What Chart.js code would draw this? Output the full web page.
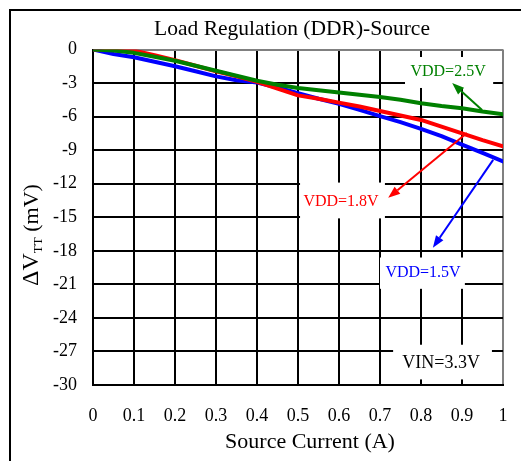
<!DOCTYPE html>
<html>
<head>
<meta charset="utf-8">
<script src="https://cdn.jsdelivr.net/npm/chart.js@4.4.1/dist/chart.umd.min.js"></script>
<style>
  html, body { margin: 0; padding: 0; background: #fff; }
  #wrap { position: relative; width: 521px; height: 461px; overflow: hidden; background: #fff; }
  #frame { position: absolute; left: 9px; top: 9px; width: 600px; height: 600px; border: 2px solid #000; }
  #c { position: absolute; left: 0; top: 0; }
</style>
</head>
<body>
<div id="wrap">
  <div id="frame"></div>
  <canvas id="c" width="521" height="461"></canvas>
</div>
<script>
// source current (A)
const current = [0, 0.05, 0.1, 0.15, 0.2, 0.25, 0.3, 0.35, 0.4, 0.45, 0.5, 0.55, 0.6, 0.65, 0.7, 0.75, 0.8, 0.85, 0.9, 0.95, 1];
// delta VTT (mV) per VDD
const vdd15 = [0, -0.4, -0.7, -1.1, -1.5, -1.95, -2.4, -2.75, -2.95, -3.4, -3.9, -4.4, -4.85, -5.4, -5.95, -6.5, -7.1, -7.75, -8.5, -9.25, -10.0];
const vdd18 = [0, -0.05, -0.1, -0.5, -0.95, -1.45, -1.95, -2.4, -2.9, -3.5, -4.1, -4.4, -4.75, -5.1, -5.5, -5.9, -6.3, -6.9, -7.5, -8.1, -8.65];
const vdd25 = [0, -0.1, -0.3, -0.65, -1.0, -1.45, -1.9, -2.35, -2.8, -3.15, -3.45, -3.65, -3.85, -4.05, -4.25, -4.5, -4.8, -5.05, -5.25, -5.55, -5.8];

const xTicks = [0, 0.1, 0.2, 0.3, 0.4, 0.5, 0.6, 0.7, 0.8, 0.9, 1];
const xTickLabels = ['0', '0.1', '0.2', '0.3', '0.4', '0.5', '0.6', '0.7', '0.8', '0.9', '1'];
const yTicks = [0, -3, -6, -9, -12, -15, -18, -21, -24, -27, -30];
const yTickLabels = ['0', '-3', '-6', '-9', '-12', '-15', '-18', '-21', '-24', '-27', '-30'];

const FONT = '"Liberation Serif", "Times New Roman", serif';

// callout labels, in data units: box [x0, x1, y0, y1], text centre, arrow [tail, head]
const notes = [
  { text: 'VDD=2.5V', color: '#008000', size: 16, box: [0.761, 0.976, -0.67, -3.44], at: [0.866, -2.0], arrow: [[0.949, -5.4], [0.876, -3.0]] },
  { text: 'VDD=1.8V', color: '#ff0000', size: 16, box: [0.505, 0.712, -11.9, -15.1], at: [0.605, -13.6], arrow: [[0.912, -7.46], [0.72, -13.26]] },
  { text: 'VDD=1.5V', color: '#0000ff', size: 16, box: [0.700, 0.907, -18.6, -21.4], at: [0.805, -19.95], arrow: [[0.976, -9.87], [0.829, -17.72]] },
  { text: 'VIN=3.3V', color: '#000000', size: 18, box: [0.732, 0.973, -26.4, -29.5], at: [0.849, -28.1], arrow: null }
];

function pts(ys) {
  return current.map((x, i) => ({ x: x, y: ys[i] }));
}

const calloutPlugin = {
  id: 'callouts',
  beforeDatasetsDraw(chart) {
    const ctx = chart.ctx, xs = chart.scales.x, ys = chart.scales.y;
    ctx.save();
    ctx.fillStyle = '#fff';
    notes.forEach(n => {
      const x0 = xs.getPixelForValue(n.box[0]), x1 = xs.getPixelForValue(n.box[1]);
      const y0 = ys.getPixelForValue(n.box[2]), y1 = ys.getPixelForValue(n.box[3]);
      ctx.fillRect(x0, y0, x1 - x0, y1 - y0);
    });
    ctx.restore();
  },
  afterDatasetsDraw(chart) {
    const ctx = chart.ctx, xs = chart.scales.x, ys = chart.scales.y;
    ctx.save();
    notes.forEach(n => {
      if (n.arrow) {
        const tx = xs.getPixelForValue(n.arrow[0][0]), ty = ys.getPixelForValue(n.arrow[0][1]);
        const hx = xs.getPixelForValue(n.arrow[1][0]), hy = ys.getPixelForValue(n.arrow[1][1]);
        const ang = Math.atan2(hy - ty, hx - tx);
        const len = 12, half = 4.5;
        const bx = hx - len * Math.cos(ang), by = hy - len * Math.sin(ang);
        ctx.strokeStyle = n.color;
        ctx.fillStyle = n.color;
        ctx.lineWidth = 2;
        ctx.beginPath();
        ctx.moveTo(tx, ty);
        ctx.lineTo(bx, by);
        ctx.stroke();
        ctx.beginPath();
        ctx.moveTo(hx, hy);
        ctx.lineTo(bx + half * Math.sin(ang), by - half * Math.cos(ang));
        ctx.lineTo(bx - half * Math.sin(ang), by + half * Math.cos(ang));
        ctx.closePath();
        ctx.fill();
      }
      ctx.fillStyle = n.color;
      ctx.font = n.size + 'px ' + FONT;
      ctx.textAlign = 'center';
      ctx.textBaseline = 'middle';
      ctx.fillText(n.text, xs.getPixelForValue(n.at[0]), ys.getPixelForValue(n.at[1]));
    });
    ctx.restore();
  },
  afterDraw(chart) {
    const ctx = chart.ctx;
    ctx.save();
    ctx.fillStyle = '#000';
    ctx.textAlign = 'center';
    ctx.textBaseline = 'middle';
    // chart title
    ctx.font = '21.5px ' + FONT;
    ctx.fillText('Load Regulation (DDR)-Source', 292, 29);
    // x title
    ctx.font = '22px ' + FONT;
    ctx.fillText('Source Current (A)', 310, 442);
    // y title with subscript, rotated
    ctx.translate(31, 235);
    ctx.rotate(-Math.PI / 2);
    ctx.textAlign = 'left';
    ctx.textBaseline = 'alphabetic';
    const parts = [
      { t: '\u0394V', f: '24px ' + FONT, dy: 0 },
      { t: 'TT', f: '13px ' + FONT, dy: 4 },
      { t: ' (mV)', f: '22px ' + FONT, dy: 0 }
    ];
    let w = 0;
    parts.forEach(p => { ctx.font = p.f; p.w = ctx.measureText(p.t).width; w += p.w; });
    let x = -w / 2;
    parts.forEach(p => {
      ctx.font = p.f;
      ctx.fillText(p.t, x, 7 + p.dy);
      x += p.w;
    });
    ctx.restore();
  }
};

new Chart(document.getElementById('c'), {
  type: 'line',
  data: {
    datasets: [
      { label: 'VDD=2.5V', data: pts(vdd25), borderColor: '#008000', order: 0 },
      { label: 'VDD=1.8V', data: pts(vdd18), borderColor: '#ff0000', order: 1 },
      { label: 'VDD=1.5V', data: pts(vdd15), borderColor: '#0000ff', order: 2 }
    ]
  },
  options: {
    responsive: false,
    animation: false,
    parsing: false,
    layout: { padding: { left: 0, right: 18, top: 49.5, bottom: 0 } },
    elements: {
      line: { borderWidth: 4, tension: 0, borderCapStyle: 'round', borderJoinStyle: 'round' },
      point: { radius: 0 }
    },
    plugins: {
      legend: { display: false },
      tooltip: { enabled: false },
      title: { display: false }
    },
    scales: {
      x: {
        type: 'linear',
        min: 0,
        max: 1,
        afterBuildTicks: s => { s.ticks = xTicks.map(v => ({ value: v })); },
        afterFit: s => { s.height = 76; s.paddingLeft = 5; s.paddingRight = 5; },
        ticks: {
          padding: 20,
          color: '#000',
          font: { family: FONT, size: 18 },
          maxRotation: 0,
          callback: (v, i) => xTickLabels[i]
        },
        grid: {
          drawTicks: false,
          lineWidth: 2,
          color: c => (c.tick && c.tick.value === 1 ? '#808080' : '#000')
        },
        border: { color: '#000', width: 2 }
      },
      y: {
        type: 'linear',
        min: -30,
        max: 0,
        afterBuildTicks: s => { s.ticks = yTicks.map(v => ({ value: v })); },
        afterFit: s => { s.width = 93; },
        ticks: {
          padding: 16,
          color: '#000',
          font: { family: FONT, size: 18 },
          callback: (v, i) => yTickLabels[i]
        },
        grid: {
          drawTicks: false,
          lineWidth: 2,
          color: c => (c.tick && c.tick.value === 0 ? '#808080' : '#000')
        },
        border: { color: '#000', width: 2 }
      }
    }
  },
  plugins: [calloutPlugin]
});
</script>
</body>
</html>
